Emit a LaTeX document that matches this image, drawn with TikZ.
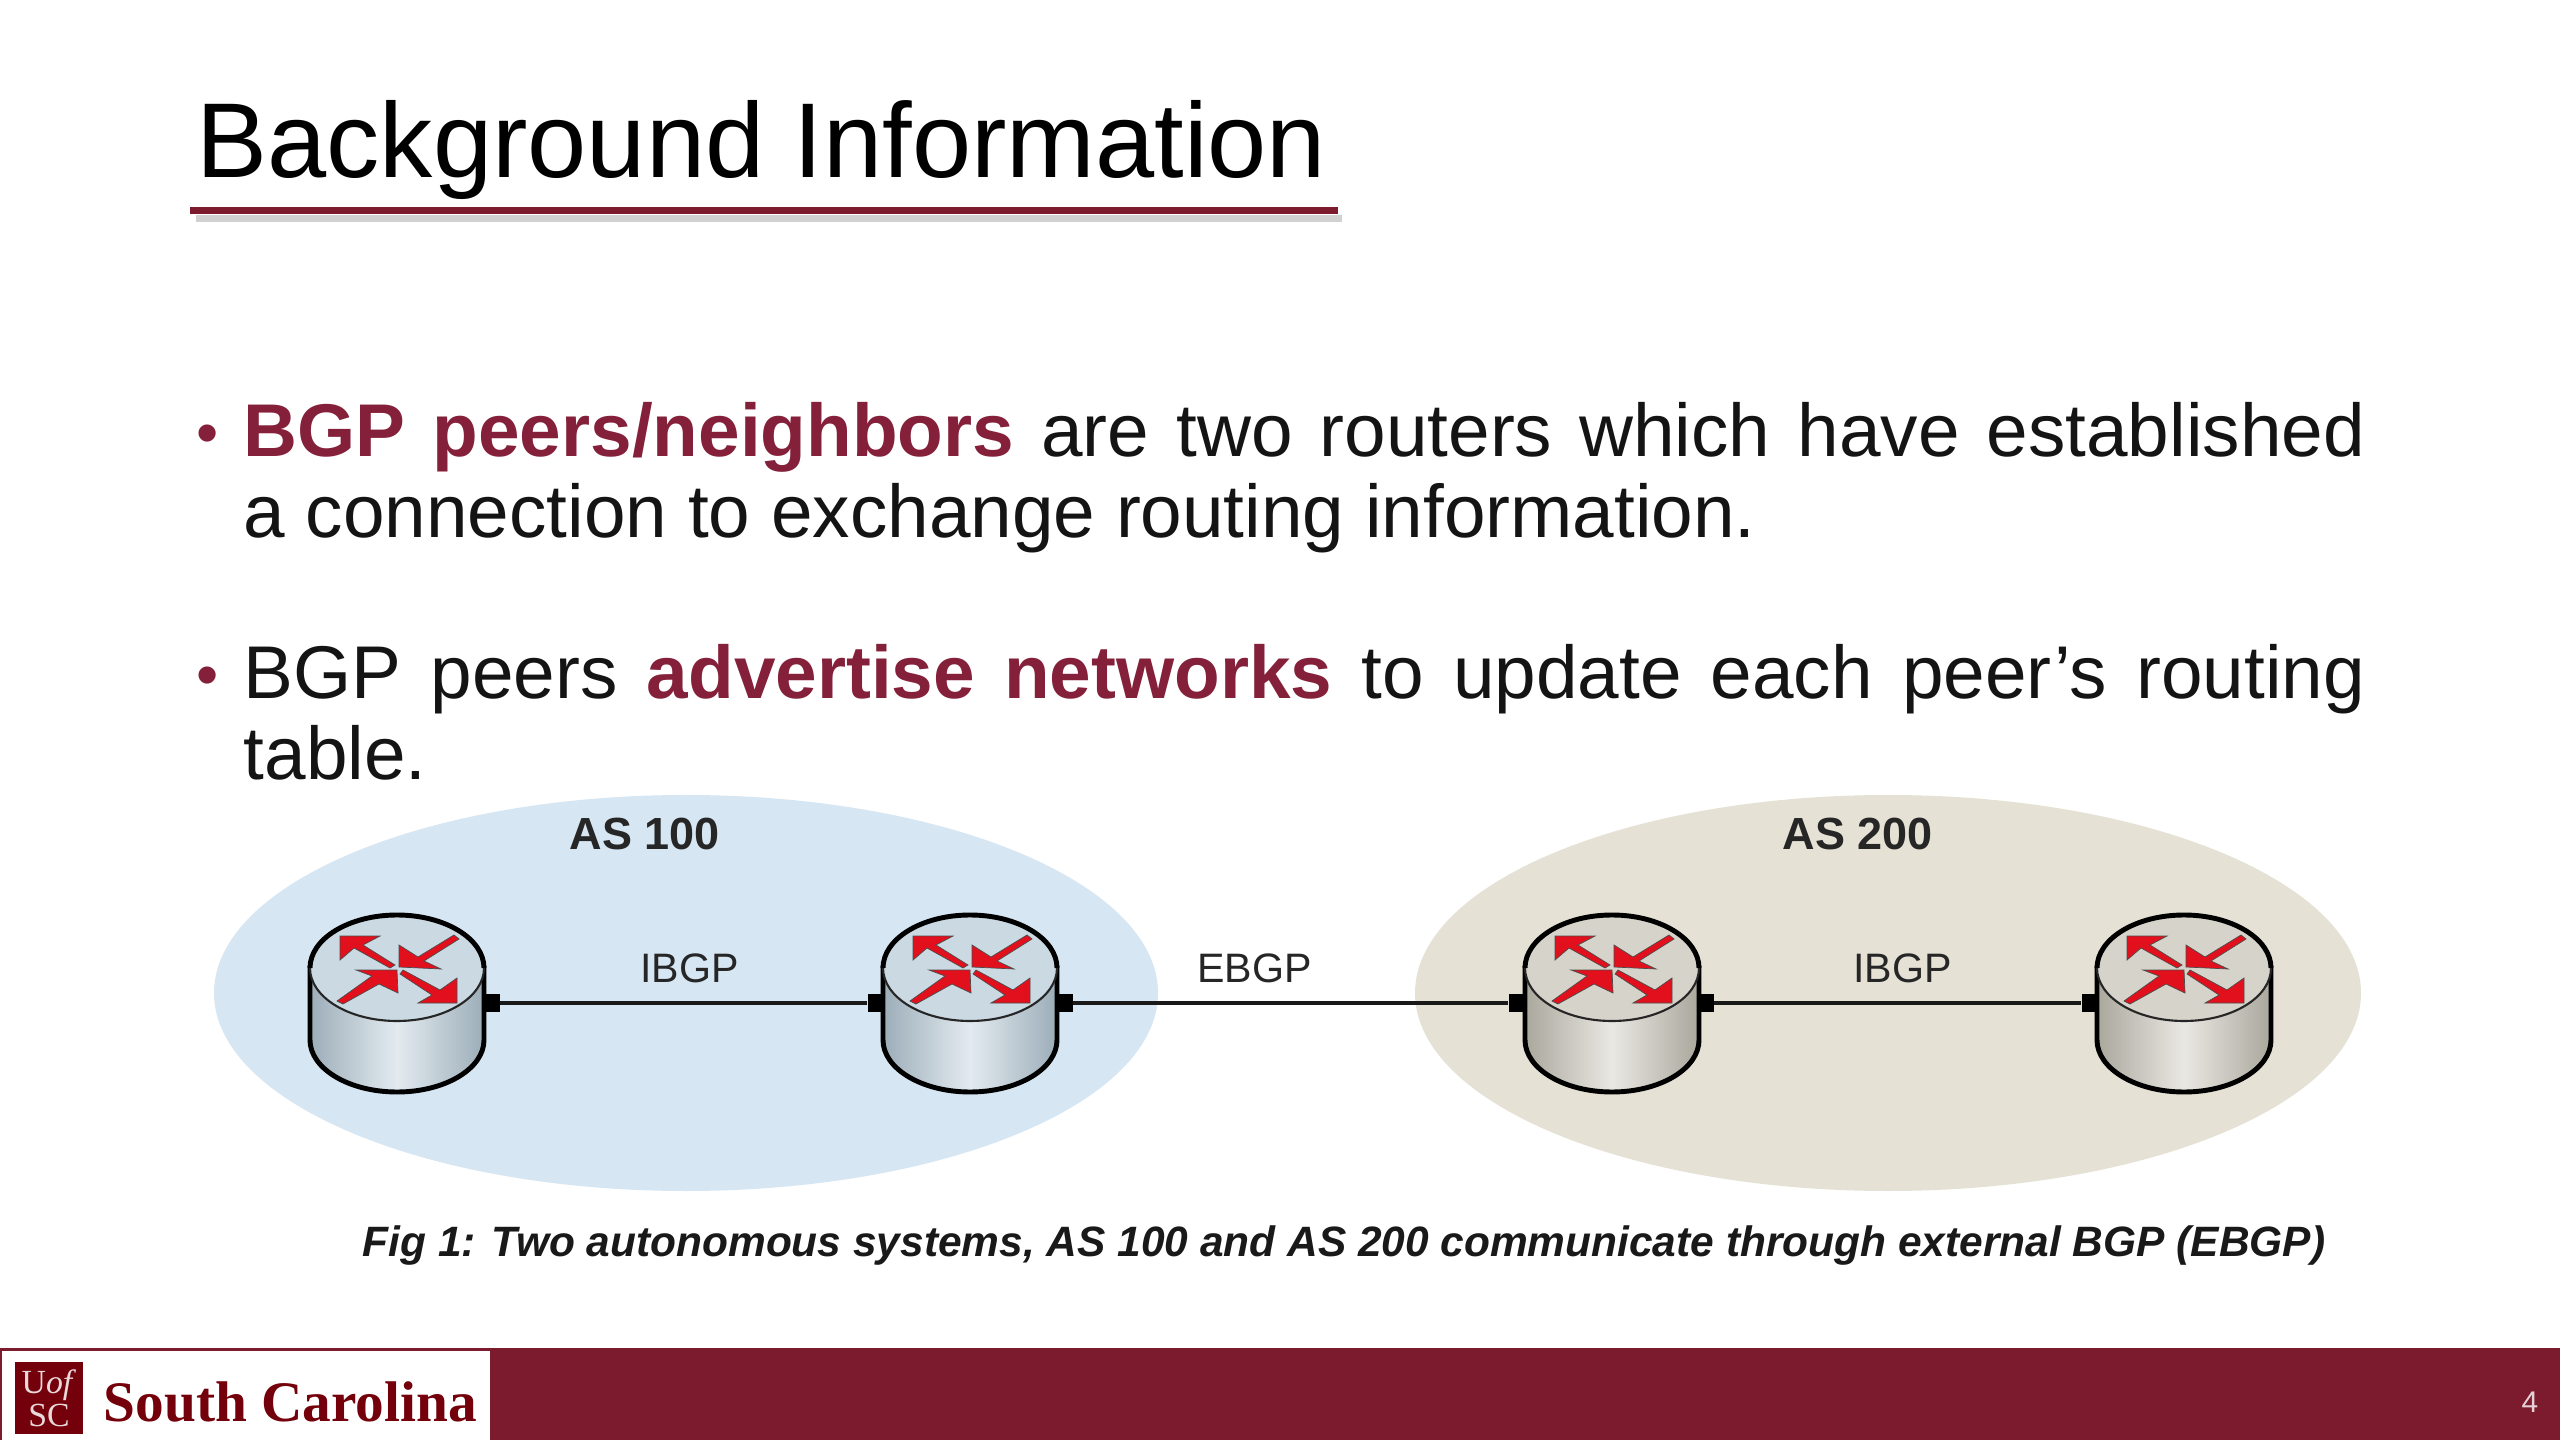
\documentclass[tikz,border=0pt]{standalone}
\usepackage{fontspec}
\setmainfont{Liberation Sans}
\newfontfamily\logofont{Liberation Serif}
\usepackage{xcolor}
\usetikzlibrary{positioning,arrows.meta}
\definecolor{garnet}{HTML}{7D1B2E}
\definecolor{garnettext}{HTML}{84203A}
\definecolor{logored}{HTML}{73000A}
\definecolor{asblue}{HTML}{D6E6F2}
\definecolor{astan}{HTML}{E5E1D5}
\definecolor{asrouter1}{HTML}{B8CCD9}
\definecolor{asrouter2}{HTML}{C8C5B8}
\definecolor{arrowred}{HTML}{E2101C}
\newcommand{\hl}[1]{\textbf{\textcolor{garnettext}{#1}}}
\tikzset{
  bodytext/.style={anchor=north west,inner sep=0pt,text width=21.2cm,align=justify,text=black!92,
    font=\fontsize{21.25}{23.05}\selectfont},
  bulletmark/.style={inner sep=0pt,text=garnettext,font=\fontsize{18}{20}\selectfont},
  port/.style={fill=black,inner sep=0pt,minimum width=0.15cm,minimum height=0.17cm},
  linklabel/.style={midway,above=0.18cm,inner sep=0pt,text=black!85,font=\fontsize{11.7}{14}\selectfont},
  aslabel/.style={inner sep=0pt,text=black!85,font=\fontsize{12.8}{15}\selectfont\bfseries},
  link/.style={line width=1pt,black!90},
  routerarrow/.style={fill=arrowred,draw=black!70,line width=0.2pt,line join=miter},
  router/.pic={
    \draw[line width=1.4pt,left color=#1!85!black,right color=#1!85!black,middle color=#1!40!white]
      (-87,0) -- (-87,72) arc[start angle=180,end angle=0,x radius=87,y radius=52] -- (87,0) -- cycle;
    \fill[#1!75!white] (0,0) ellipse[x radius=87,y radius=53];
    \draw[line width=0.6pt,black!85] (-87,0) arc[start angle=180,end angle=0,x radius=87,y radius=53];
    \draw[line width=1.4pt] (-87,0) arc[start angle=180,end angle=360,x radius=87,y radius=53];
    \draw[routerarrow] (-57,-32) -- (-17,-32) -- (-34,-23) -- (-2,-3) -- (-7,0) -- (-43,-20) -- (-57,-8) -- cycle;
    \draw[routerarrow] (0,2) -- (-41,2) -- (-25,8) -- (-60,33) -- (-54,36) -- (-18,16) -- (1,25) -- cycle;
    \draw[routerarrow] (2,-1) -- (2,-23) -- (21,-11) -- (57,-33) -- (62,-29) -- (27,-7) -- (44,1) -- cycle;
    \draw[routerarrow] (6,2) -- (43,22) -- (60,10) -- (60,35) -- (21,35) -- (35,27) -- (3,6) -- cycle;
  }
}
\begin{document}
\begin{tikzpicture}[x=0.01cm,y=-0.01cm]
\fill[white] (0,0) rectangle (2560,1440);
\useasboundingbox (0,0) rectangle (2560,1440);
% title
\node (title) [anchor=base west,inner sep=0pt,font=\fontsize{30.25}{36}\selectfont] at (196,178) {Background Information};
\fill[black!18] (196,215) rectangle (1342,222);
\fill[garnet] (190,207) rectangle (1338,214);
% bullets
\node (b1) [bulletmark] at (208,440) {•};
\node (t1) [bodytext] at (243,402) {\hl{BGP peers/neighbors} are two routers which have established\linebreak a connection to exchange routing information.};
\node (b2) [bulletmark] at (208,682) {•};
\node (t2) [bodytext] at (243,644) {BGP peers \hl{advertise networks} to update each peer’s routing\linebreak table.};
% autonomous systems
\fill[asblue] (686,993) ellipse[x radius=472,y radius=198];
\fill[astan] (1888,993) ellipse[x radius=473,y radius=198];
\node (as1) [aslabel] at (645,834) {AS 100};
\node (as2) [aslabel] at (1858,834) {AS 200};
% ports
\node (p1e) [port] at (492,1003) {};
\node (p2w) [port] at (875,1003) {};
\node (p2e) [port] at (1065,1003) {};
\node (p3w) [port] at (1516,1003) {};
\node (p3e) [port] at (1706,1003) {};
\node (p4w) [port] at (2089,1003) {};
% links
\draw[link] (p1e) -- (p2w) node[linklabel,xshift=0.06cm]{IBGP};
\draw[link] (p2e) -- (p3w) node[linklabel,xshift=-0.36cm]{EBGP};
\draw[link] (p3e) -- (p4w) node[linklabel,xshift=0.05cm]{IBGP};
% routers
\pic (r1) at (397,968) {router={asrouter1}};
\pic (r2) at (970,968) {router={asrouter1}};
\pic (r3) at (1612,968) {router={asrouter2}};
\pic (r4) at (2184,968) {router={asrouter2}};
% caption
\node (cap) [inner sep=0pt,text=black!90,font=\fontsize{12.07}{15}\selectfont\bfseries\itshape] at (1344,1246) {Fig 1: Two autonomous systems, AS 100 and AS 200 communicate through external BGP (EBGP)};
% footer
\fill[garnet] (0,1348) rectangle (2560,1440);
\fill[white] (2,1351) rectangle (490,1440);
\node (logo) [fill=logored,inner sep=0pt,minimum width=0.68cm,minimum height=0.71cm,text=white!85!logored,align=center,font=\logofont\fontsize{9.6}{9.4}\selectfont] at (49,1398) {U\textit{of}\\SC};
\node (usc) [anchor=base west,inner sep=0pt,text=logored,font=\logofont\bfseries\fontsize{16.3}{18}\selectfont] at (103,1421) {South Carolina};
\node (page) [inner sep=0pt,text=white!80!garnet,font=\fontsize{8.5}{10}\selectfont] at (2530,1402) {4};
\end{tikzpicture}
\end{document}
